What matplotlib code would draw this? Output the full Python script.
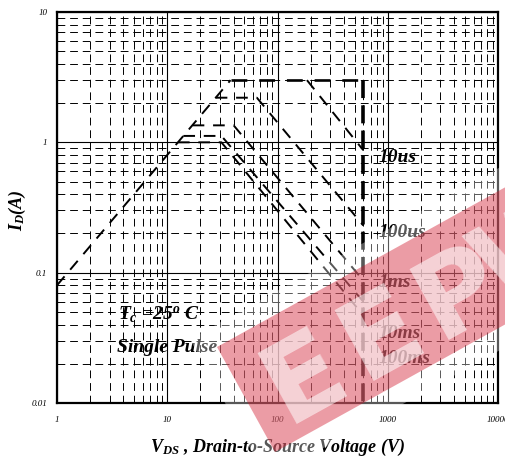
import numpy as np
import matplotlib
matplotlib.use("Agg")
import matplotlib.pyplot as plt
from matplotlib.patches import Polygon
from matplotlib.ticker import FixedLocator, FixedFormatter, NullFormatter, LogLocator

# ==============================================================
# DATA
# ==============================================================

# R_DS(on) limit line
rds_v = [1.0, 37.5]
rds_i = [0.08, 3.0]

# I_DM / BV_DSS envelope
env_v = [37.5, 600.0, 600.0]
env_i = [3.0, 3.0, 0.01]

# pulse curves
us10_v = [185.0, 600.0]
us10_i = [3.0, 0.87]
us100_v = [27.5, 65.0, 600.0]
us100_i = [2.2, 2.2, 0.23]
ms1_v = [17.0, 40.0, 600.0]
ms1_i = [1.35, 1.35, 0.087]
ms10_v = [14.0, 31.0, 600.0]
ms10_i = [1.12, 1.12, 0.06]
ms100_v = [12.5, 31.0, 600.0]
ms100_i = [1.0, 1.0, 0.047]

curve_names = ["10us", "100us", "1ms", "10ms", "100ms"]

x_ticks = [1, 10, 100, 1000, 10000]
x_tick_labels = ["1", "10", "100", "1000", "10000"]
y_ticks = [0.01, 0.1, 1, 10]
y_tick_labels = ["0.01", "0.1", "1", "10"]

# ==============================================================
# STYLE
# ==============================================================

plt.rcParams["mathtext.fontset"] = "custom"
plt.rcParams["mathtext.rm"] = "Liberation Serif:bold:italic"
plt.rcParams["mathtext.it"] = "Liberation Serif:bold:italic"
plt.rcParams["mathtext.bf"] = "Liberation Serif:bold:italic"

W, H = 505, 463
bold_it = dict(family="Liberation Serif", weight="bold", style="italic")


def px(x, y):
    # pixel (from top-left) -> figure fraction
    return x / W, 1 - y / H


fig = plt.figure(figsize=(W / 100, H / 100), dpi=100)
ax = fig.add_axes([57 / W, 60 / H, 441 / W, 391 / H])
ax.set_xscale("log")
ax.set_yscale("log")
ax.set_xlim(1, 10000)
ax.set_ylim(0.01, 10)

ax.xaxis.set_major_locator(FixedLocator(x_ticks))
ax.xaxis.set_major_formatter(FixedFormatter(x_tick_labels))
ax.yaxis.set_major_locator(FixedLocator(y_ticks))
ax.yaxis.set_major_formatter(FixedFormatter(y_tick_labels))
ax.xaxis.set_minor_locator(LogLocator(base=10, subs=range(2, 10), numticks=20))
ax.yaxis.set_minor_locator(LogLocator(base=10, subs=range(2, 10), numticks=20))
ax.xaxis.set_minor_formatter(NullFormatter())
ax.yaxis.set_minor_formatter(NullFormatter())

ax.tick_params(which="both", length=0)
ax.tick_params(axis="y", pad=7)
ax.tick_params(axis="x", pad=9)
for lab in ax.get_xticklabels() + ax.get_yticklabels():
    lab.set_fontfamily("Liberation Serif")
    lab.set_fontstyle("italic")
    lab.set_fontsize(6.5)

ax.grid(which="major", color="black", linewidth=0.8, linestyle="-")
ax.grid(which="minor", color="black", linewidth=0.7, linestyle=(0, (8, 5)))
ax.set_axisbelow(True)
for sp in ax.spines.values():
    sp.set_linewidth(1.6)

# ==============================================================
# CURVES
# ==============================================================

dash = (0, (6, 4.5))
ax.plot(rds_v, rds_i, color="black", lw=1.4, linestyle=dash)
ax.plot(env_v[:2], env_i[:2], color="black", lw=1.9, linestyle=dash)
ax.plot(env_v[1:], env_i[1:], color="black", lw=2.6, linestyle=(0, (5, 2)))
for v, i in [(us10_v, us10_i), (us100_v, us100_i), (ms1_v, ms1_i),
             (ms10_v, ms10_i), (ms100_v, ms100_i)]:
    ax.plot(v, i, color="black", lw=1.4, linestyle=dash)

# ==============================================================
# TEXT
# ==============================================================

label_y = [0.629, 0.437, 0.309, 0.179, 0.115]
for name, yy in zip(curve_names, label_y):
    ax.text(0.728, yy, name, transform=ax.transAxes, ha="left", va="center",
            fontsize=14, **bold_it)

ax.text(0.138, 0.225, "$T_c$ =25$^o$ C", transform=ax.transAxes,
        ha="left", va="center", fontsize=14, **bold_it)
ax.text(0.136, 0.141, "Single Pulse", transform=ax.transAxes,
        ha="left", va="center", fontsize=14, **bold_it)

fig.text(*px(17, 210), "$I_D$(A)", rotation=90, ha="center", va="center",
         fontsize=13, **bold_it)
fig.text(*px(277, 447), "$V_{DS}$ , Drain-to-Source Voltage (V)",
         ha="center", va="center", fontsize=13, **bold_it)

# ==============================================================
# WATERMARK
# ==============================================================

ux, uy = 0.875, -0.485   # band direction (pixels, y down)
nx, ny = 0.485, 0.875    # across the band
band = [(217, 347), (275, 452), (275 + ux * 420, 452 + uy * 420),
        (217 + ux * 420, 347 + uy * 420)]
g = 20
halo = [(217 - ux * g - nx * g, 347 - uy * g - ny * g),
        (275 - ux * g + nx * g, 452 - uy * g + ny * g),
        (275 + ux * 420 + nx * g, 452 + uy * 420 + ny * g),
        (217 + ux * 420 - nx * g, 347 + uy * 420 - ny * g)]
fig.add_artist(Polygon([px(*p) for p in halo], closed=True, transform=fig.transFigure,
                       facecolor="white", edgecolor="none", alpha=0.35, zorder=10))
fig.add_artist(Polygon([px(*p) for p in band], closed=True, transform=fig.transFigure,
                       facecolor=(0.82, 0.08, 0.16), edgecolor="none", alpha=0.42, zorder=11))

cx0, cy0 = 246, 400   # left end of band centre line
cap = 0.729 * 80 * 100 / 72
for k, ch in enumerate("EEPW"):
    t = 62 + 88 * k
    bx = cx0 + ux * t + nx * cap / 2
    by = cy0 + uy * t + ny * cap / 2
    fig.text(*px(bx, by), ch, rotation=29, rotation_mode="anchor",
             ha="center", va="baseline", fontsize=80, weight="bold",
             family="DejaVu Sans", color="white", alpha=0.55, zorder=12)

fig.savefig("out.png", dpi=100)
